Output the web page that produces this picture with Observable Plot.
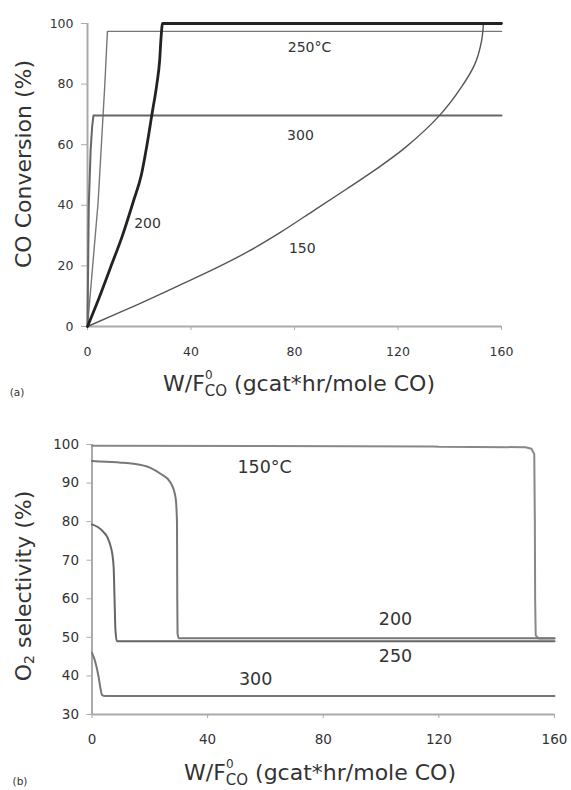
<!DOCTYPE html>
<html>
<head>
<meta charset="utf-8">
<script src="https://cdn.jsdelivr.net/npm/d3@7"></script>
<script src="https://cdn.jsdelivr.net/npm/@observablehq/plot@0.6"></script>
<style>
  html, body { margin: 0; padding: 0; background: #fff; }
  #wrap { position: relative; width: 571px; height: 790px; overflow: hidden; font-family: "DejaVu Sans", sans-serif; }
  #wrap svg { position: absolute; left: 0; overflow: visible; }
</style>
</head>
<body>
<div id="wrap"></div>
<script>
// ---------- Panel (a): CO conversion (%) vs W/F ----------
const convX150 = [0, 20, 36, 49, 62, 75, 88, 100, 111, 123, 136, 144.5, 149.7, 152.3, 153];
const convY150 = [0, 7.5, 13.8, 19, 24.7, 31.3, 38.6, 45.3, 51.6, 59.2, 69.6, 79, 86.6, 94.3, 100];
const convX200 = [0, 4.5, 8.9, 13.5, 17.8, 20.8, 23, 24.9, 26.8, 27.9, 28.4, 29, 160];
const convY200 = [0, 9.5, 19.5, 30, 41.5, 50, 60, 70, 80, 88, 95, 100, 100];
const convX250 = [0, 2, 4.1, 6.7, 7.7, 160];
const convY250 = [0, 20, 41, 80, 97.4, 97.4];
const convX300 = [0, 0.5, 1.2, 1.8, 2.3, 160];
const convY300 = [0, 40, 58, 66, 69.6, 69.6];
const convLabelText = ["250°C", "300", "200", "150"];
const convLabelX = [85.8, 82.3, 23.2, 83];
const convLabelY = [92.1, 63, 34, 25.6];
const convYTicks = [0, 20, 40, 60, 80, 100];

// ---------- Panel (b): O2 selectivity (%) vs W/F ----------
const selX150 = [0, 60, 118, 120, 150, 152, 153, 153.2, 153.3, 153.5, 154.5, 160];
const selY150 = [99.7, 99.6, 99.5, 99.4, 99.3, 98.9, 97.5, 80, 60, 50.5, 49.7, 49.7];
const selX200 = [0, 5, 10, 14.4, 20, 23.7, 27.1, 28.9, 29.4, 29.5, 29.6, 30, 160];
const selY200 = [95.7, 95.5, 95.3, 95, 94, 92.4, 90.2, 86.3, 80, 60, 51, 49.8, 49.8];
const selX250 = [0, 2, 4, 5.3, 6.3, 7, 7.5, 7.8, 8.1, 8.6, 160];
const selY250 = [79.3, 78.6, 77.3, 76, 74, 71.7, 68, 60, 52, 49, 49];
const selX300 = [0, 1, 2.3, 3, 3.5, 4.5, 160];
const selY300 = [46, 44, 39.7, 36.5, 35, 34.8, 34.8];
const selLabelText = ["150°C", "200", "250", "300"];
const selLabelX = [59.7, 105, 105, 56.6];
const selLabelY = [94.1, 54.6, 45.0, 39.1];
const selYTicks = [30, 40, 50, 60, 70, 80, 90, 100];

const xTicks = [0, 40, 80, 120, 160];

function series(xs, ys) { return xs.map((x, i) => ({x, y: ys[i]})); }

const FONT = "DejaVu Sans, sans-serif";
const AXIS = "#aaa";
const TXT = "#333";

// ---------- Panel (a) ----------
const plotA = Plot.plot({
  width: 571, height: 400,
  marginLeft: 87, marginRight: 70, marginTop: 23, marginBottom: 74,
  style: {fontFamily: FONT, background: "transparent", overflow: "visible"},
  x: {domain: [0, 160]},
  y: {domain: [0, 100]},
  marks: [
    Plot.ruleX([0], {stroke: AXIS, strokeWidth: 2}),
    Plot.ruleY([0], {stroke: AXIS, strokeWidth: 2}),
    Plot.axisY({ticks: convYTicks, tickSize: 6, tickPadding: 8, stroke: AXIS, fill: TXT, fontSize: 12.5, label: null}),
    Plot.axisX({ticks: xTicks, tickSize: 4, tickPadding: 17, stroke: AXIS, fill: TXT, fontSize: 12.5, label: null}),
    Plot.line(series(convX250, convY250), {x: "x", y: "y", stroke: "#777", strokeWidth: 1.4}),
    Plot.line(series(convX300, convY300), {x: "x", y: "y", stroke: "#666", strokeWidth: 2}),
    Plot.line(series(convX150, convY150), {x: "x", y: "y", stroke: "#555", strokeWidth: 1.4, curve: "catmull-rom"}),
    Plot.line(series(convX200, convY200), {x: "x", y: "y", stroke: "#222", strokeWidth: 2.8, curve: "monotone-x"}),
    Plot.text(convLabelText, {x: (d, i) => convLabelX[i], y: (d, i) => convLabelY[i], text: d => d, fontSize: 14, fill: TXT})
  ]
});

// ---------- Panel (b) ----------
const plotB = Plot.plot({
  width: 571, height: 390,
  marginLeft: 91.5, marginRight: 17, marginTop: 44, marginBottom: 76,
  style: {fontFamily: FONT, background: "transparent", overflow: "visible"},
  x: {domain: [0, 160]},
  y: {domain: [30, 100]},
  marks: [
    Plot.ruleX([0], {stroke: AXIS, strokeWidth: 2}),
    Plot.ruleY([30], {stroke: AXIS, strokeWidth: 2}),
    Plot.axisY({ticks: selYTicks, tickSize: 5, tickPadding: 8, stroke: AXIS, fill: TXT, fontSize: 13.5, label: null}),
    Plot.axisX({ticks: xTicks, tickSize: 4, tickPadding: 16, stroke: AXIS, fill: TXT, fontSize: 13.5, label: null}),
    Plot.line(series(selX150, selY150), {x: "x", y: "y", stroke: "#888", strokeWidth: 2}),
    Plot.line(series(selX200, selY200), {x: "x", y: "y", stroke: "#777", strokeWidth: 2, curve: "monotone-x"}),
    Plot.line(series(selX250, selY250), {x: "x", y: "y", stroke: "#666", strokeWidth: 2, curve: "monotone-x"}),
    Plot.line(series(selX300, selY300), {x: "x", y: "y", stroke: "#777", strokeWidth: 2, curve: "monotone-x"}),
    Plot.text(selLabelText, {x: (d, i) => selLabelX[i], y: (d, i) => selLabelY[i], text: d => d, fontSize: 17.5, fill: TXT})
  ]
});

const wrap = document.getElementById("wrap");
plotA.style.top = "0px";
plotB.style.top = "400px";
wrap.appendChild(plotA);
wrap.appendChild(plotB);

// ---------- titles (with sub/superscripts) ----------
function yTitle(svg, cx, cy, main, sub, rest) {
  const t = d3.select(svg).append("text")
    .attr("transform", `translate(${cx},${cy}) rotate(-90)`)
    .attr("text-anchor", "middle").attr("dominant-baseline", "central")
    .attr("font-family", FONT).attr("font-size", 22).attr("fill", TXT);
  t.append("tspan").text(main);
  if (sub) {
    t.append("tspan").attr("font-size", 14).attr("dy", 6).text(sub);
    t.append("tspan").attr("dy", -6).text(rest);
  }
}

function xTitle(svg, cx, baseline) {
  const t = d3.select(svg).append("text")
    .attr("x", cx).attr("y", baseline).attr("text-anchor", "middle")
    .attr("font-family", FONT).attr("font-size", 22).attr("fill", TXT);
  t.append("tspan").text("W/F");
  t.append("tspan").attr("font-size", 15).attr("dy", 5).text("CO");
  t.append("tspan").attr("dy", -5).text(" (gcat*hr/mole CO)");
  const subStart = t.node().getStartPositionOfChar(3).x;
  d3.select(svg).append("text")
    .attr("x", subStart + 4).attr("y", baseline - 12)
    .attr("font-family", FONT).attr("font-size", 12).attr("fill", TXT)
    .text("0");
}

function panelTag(svg, x, y, s) {
  d3.select(svg).append("text")
    .attr("x", x).attr("y", y).attr("text-anchor", "middle")
    .attr("font-family", FONT).attr("font-size", 10.5).attr("fill", TXT)
    .text(s);
}

yTitle(plotA, 23, 164, "CO Conversion (%)");
xTitle(plotA, 299, 391);
panelTag(plotA, 17, 396, "(a)");

yTitle(plotB, 23, 186, "O", "2", " selectivity (%)");
xTitle(plotB, 320, 380);
panelTag(plotB, 20, 385, "(b)");
</script>
</body>
</html>
